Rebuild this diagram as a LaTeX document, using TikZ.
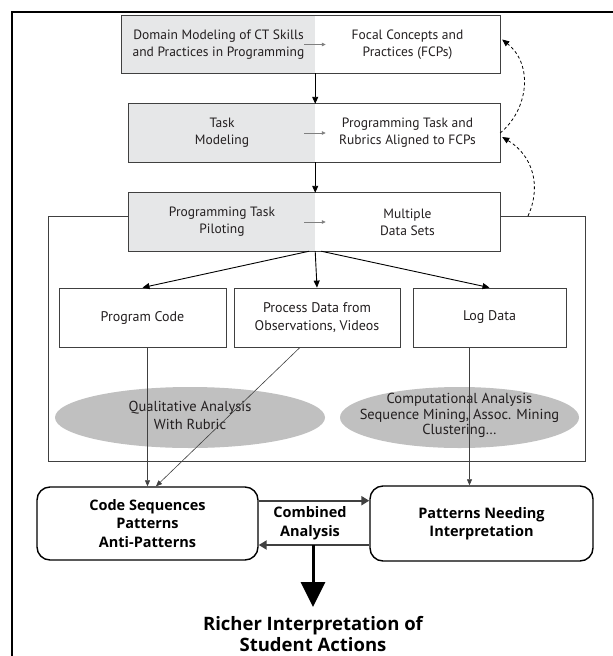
\documentclass[tikz,border=0pt]{standalone}
\usepackage{fontspec}
\setmainfont{PT Sans}
\newfontfamily\bfam{Open Sans}
\usetikzlibrary{arrows.meta,shapes.geometric}
\definecolor{boxgray}{HTML}{E6E7E8}
\definecolor{ellgray}{HTML}{C0C0C0}
\definecolor{linegray}{HTML}{404040}
\definecolor{smallgray}{HTML}{808080}
\definecolor{ink}{HTML}{231F20}
\begin{document}
\begin{tikzpicture}[x=1pt,y=1pt,
  txt/.style={align=center, inner sep=0pt, text=ink, font=\fontsize{13.5}{17}\selectfont},
  grayhalf/.style={txt, fill=boxgray},
  whitehalf/.style={txt, fill=white},
  boxline/.style={draw=linegray, line width=0.8pt},
  plainbox/.style={txt, draw=linegray, line width=0.8pt, fill=white, font=\fontsize{14}{17.5}\selectfont},
  ell/.style={ellipse, inner sep=0pt, fill=ellgray},
  elltext/.style={align=center, inner sep=0pt, text=ink},
  roundbox/.style={draw=black, line width=1.4pt, rounded corners=13pt, align=center, inner sep=0pt,
     font=\bfam\bfseries\fontsize{14.5}{18.3}\selectfont},
  arr/.style={draw=black, line width=0.9pt, -{Triangle[length=7pt,width=6pt]}},
  thinarr/.style={draw=linegray, line width=0.6pt, -{Triangle[length=6pt,width=5pt]}},
  smallarr/.style={draw=smallgray, line width=0.8pt, -{Triangle[length=4pt,width=3.5pt]}},
  combarr/.style={draw=linegray, line width=2pt, -{Triangle[length=8pt,width=9pt]}},
  bigarr/.style={draw=black, line width=3pt, -{Triangle[length=25pt,width=24pt]}},
  dasharr/.style={draw=black, line width=0.8pt, dash pattern=on 3pt off 2.5pt, -{Triangle[length=7pt,width=6pt]}}
]
\useasboundingbox (0,0) rectangle (613,-656);
\fill[white] (0,0) rectangle (613,-656);
% outer frame (left and top edges)
\draw[line width=2pt, line cap=rect] (12,-656) -- (12,-12) -- (613,-12);

% container
\node[draw=linegray, line width=0.8pt, minimum width=537pt, minimum height=245pt, inner sep=0pt] (cont) at (316.5,-338.5) {};

% box 1
\node[grayhalf, minimum width=193pt, minimum height=57pt] (b1l) at (218.5,-44.5) {Domain Modeling of CT Skills\\and Practices in Programming};
\node[whitehalf, minimum width=185pt, minimum height=57pt] (b1r) at (407.5,-44.5) {Focal Concepts and\\Practices (FCPs)};
\draw[boxline] (b1l.north west) rectangle (b1r.south east);
\draw[smallarr] ([xshift=-11pt]b1l.east) -- ([xshift=11pt]b1r.west);

% box 2
\node[grayhalf, minimum width=186pt, minimum height=58pt] (b2l) at (222,-133) {Task\\Modeling};
\node[whitehalf, minimum width=185pt, minimum height=58pt] (b2r) at (407.5,-133) {Programming Task and\\Rubrics Aligned to FCPs};
\draw[boxline] (b2l.north west) rectangle (b2r.south east);
\draw[smallarr] ([xshift=-11pt]b2l.east) -- ([xshift=11pt]b2r.west);

% box 3
\node[grayhalf, minimum width=186pt, minimum height=58pt] (b3l) at (222,-222) {Programming Task\\Piloting};
\node[whitehalf, minimum width=185pt, minimum height=58pt] (b3r) at (407.5,-222) {Multiple\\Data Sets};
\draw[boxline] (b3l.north west) rectangle (b3r.south east);
\draw[smallarr] ([xshift=-11pt]b3l.east) -- ([xshift=11pt]b3r.west);

% vertical arrows between top boxes
\draw[arr] (b1l.south east) -- (b2l.north east);
\draw[arr] (b2l.south east) -- (b3l.north east);

% three data boxes
\node[plainbox, minimum width=167pt, minimum height=59pt] (pc) at (142.5,-317.5) {Program Code};
\node[plainbox, minimum width=166pt, minimum height=59pt] (pd) at (317,-317.5) {Process Data from\\Observations, Videos};
\node[plainbox, minimum width=153pt, minimum height=59pt] (ld) at (489.5,-317.5) {Log Data};

\draw[arr] ([xshift=-6pt]b3l.south east) -- (pc.north);
\draw[arr] (b3l.south east) -- (pd.north);
\draw[arr] ([xshift=6pt]b3l.south east) -- (ld.north);

% ellipses
\node[ell, minimum width=270pt, minimum height=61pt] (qual) at (190,-417.5) {};
\node[elltext, font=\fontsize{14.5}{18}\selectfont] (qualt) at ([yshift=2pt]qual.center) {Qualitative Analysis\\With Rubric};
\node[ell, minimum width=239pt, minimum height=61pt] (comp) at (459.5,-417.5) {};
\node[elltext, font=\fontsize{14.5}{15.5}\selectfont] (compt) at ([yshift=2pt]comp.center) {Computational Analysis\\Sequence Mining, Assoc. Mining\\Clustering…};

% bottom rounded boxes
\node[roundbox, minimum width=221pt, minimum height=73pt] (cs) at (147.5,-523.5) {Code Sequences\\Patterns\\Anti-Patterns};
\node[roundbox, minimum width=223pt, minimum height=75pt] (pn) at (481.5,-523.5) {Patterns Needing\\Interpretation};

% thin lines from data boxes
\draw[thinarr] (pc.south -| cs.north) -- (cs.north);
\draw[thinarr] ([xshift=-17pt]pd.south) -- ([xshift=8.5pt]cs.north);
\draw[thinarr] ([xshift=-12pt]pn.north |- ld.south) -- ([xshift=-12pt]pn.north);

% combined analysis
\node[align=center, inner sep=0pt, font=\bfam\bfseries\fontsize{14.5}{19}\selectfont] (comb) at (310,-523) {Combined\\Analysis};
\draw[combarr] ([yshift=22.8pt]cs.east) -- ([yshift=22.8pt]cs.east -| pn.west);
\draw[combarr] ([yshift=-21.5pt]pn.west) -- ([yshift=-21.5pt]pn.west -| cs.east);
\coordinate (split) at (313,-545);

% result
\node[align=center, inner sep=0pt, font=\bfam\bfseries\fontsize{18.5}{21.5}\selectfont] (rich) at (313,-634) {Richer Interpretation of\\Student Actions};
\draw[bigarr] (split) -- (split |- 0,-607);

% dashed feedback arrows
\coordinate (d1s) at (528,-216);
\draw[dasharr] (d1s) .. controls (542,-185) and (532,-155) .. ([xshift=2pt,yshift=-4pt]b2r.east);
\draw[dasharr] (b2r.east) .. controls (528,-110) and (534,-65) .. ([xshift=2pt,yshift=5pt]b1r.east);
\end{tikzpicture}
\end{document}
